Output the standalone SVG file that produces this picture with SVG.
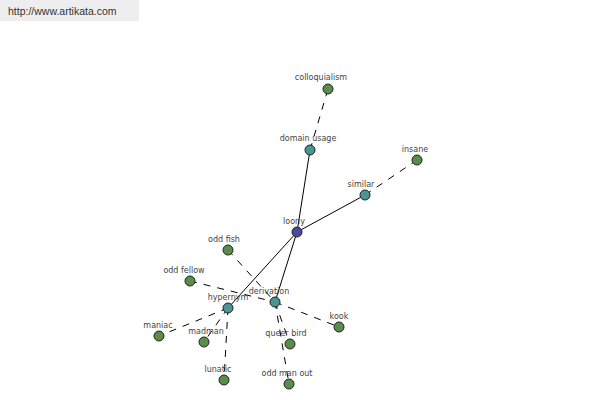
<svg xmlns="http://www.w3.org/2000/svg" width="600" height="400" viewBox="0 0 600 400">
<style>
text{font-family:"DejaVu Sans","Liberation Sans",sans-serif;font-size:8px;fill:#444;text-anchor:middle}
.n{stroke:#222;stroke-width:1}
.g{fill:#5b8c4c}.t{fill:#4b9494}.b{fill:#4a4aa0}
.s{stroke:#000;stroke-width:1;fill:none}
.d{stroke:#000;stroke-width:1;fill:none;stroke-dasharray:7,7}
</style>
<rect x="0" y="0" width="139" height="21" fill="#eeeeee"/>
<text x="8" y="15" style="text-anchor:start;font-family:'Liberation Sans',sans-serif;font-size:10.5px;fill:#333">http://www.artikata.com</text>
<g id="connectors">
<line class="s" x1="297" y1="232" x2="310" y2="150"/>
<line class="d" x1="310" y1="150" x2="328" y2="89"/>
<line class="s" x1="297" y1="232" x2="365" y2="195"/>
<line class="d" x1="365" y1="195" x2="417" y2="160"/>
<line class="s" x1="297" y1="232" x2="228" y2="308"/>
<line class="s" x1="297" y1="232" x2="275" y2="302"/>
<line class="d" x1="228" y1="308" x2="159" y2="336"/>
<line class="d" x1="228" y1="308" x2="204" y2="342"/>
<line class="d" x1="228" y1="308" x2="224" y2="380"/>
<line class="d" x1="190" y1="281" x2="275" y2="302"/>
<line class="d" x1="228" y1="250" x2="275" y2="302"/>
<line class="d" x1="275" y1="302" x2="339" y2="327"/>
<line class="d" x1="275" y1="302" x2="290" y2="344"/>
<line class="d" x1="275" y1="302" x2="289" y2="384"/>
</g>
<g id="colloquialism"><circle class="n g" cx="328" cy="89" r="5"/><text x="321" y="80">colloquialism</text></g>
<g id="domain-usage"><circle class="n t" cx="310" cy="150" r="5"/><text x="308" y="141">domain usage</text></g>
<g id="insane"><circle class="n g" cx="417" cy="160" r="5"/><text x="415" y="152">insane</text></g>
<g id="similar"><circle class="n t" cx="365" cy="195" r="5"/><text x="361" y="187">similar</text></g>
<g id="loony"><circle class="n b" cx="297" cy="232" r="5"/><text x="294" y="224">loony</text></g>
<g id="odd-fish"><circle class="n g" cx="228" cy="250" r="5"/><text x="224" y="242">odd fish</text></g>
<g id="odd-fellow"><circle class="n g" cx="190" cy="281" r="5"/><text x="184" y="273">odd fellow</text></g>
<g id="hypernym"><circle class="n t" cx="228" cy="308" r="5"/><text x="228" y="300">hypernym</text></g>
<g id="derivation"><circle class="n t" cx="275" cy="302" r="5"/><text x="269" y="294">derivation</text></g>
<g id="maniac"><circle class="n g" cx="159" cy="336" r="5"/><text x="158" y="328">maniac</text></g>
<g id="madman"><circle class="n g" cx="204" cy="342" r="5"/><text x="206" y="334">madman</text></g>
<g id="lunatic"><circle class="n g" cx="224" cy="380" r="5"/><text x="218" y="372">lunatic</text></g>
<g id="kook"><circle class="n g" cx="339" cy="327" r="5"/><text x="339" y="319">kook</text></g>
<g id="queer-bird"><circle class="n g" cx="290" cy="344" r="5"/><text x="286" y="336">queer bird</text></g>
<g id="odd-man-out"><circle class="n g" cx="289" cy="384" r="5"/><text x="287" y="376">odd man out</text></g>
</svg>
